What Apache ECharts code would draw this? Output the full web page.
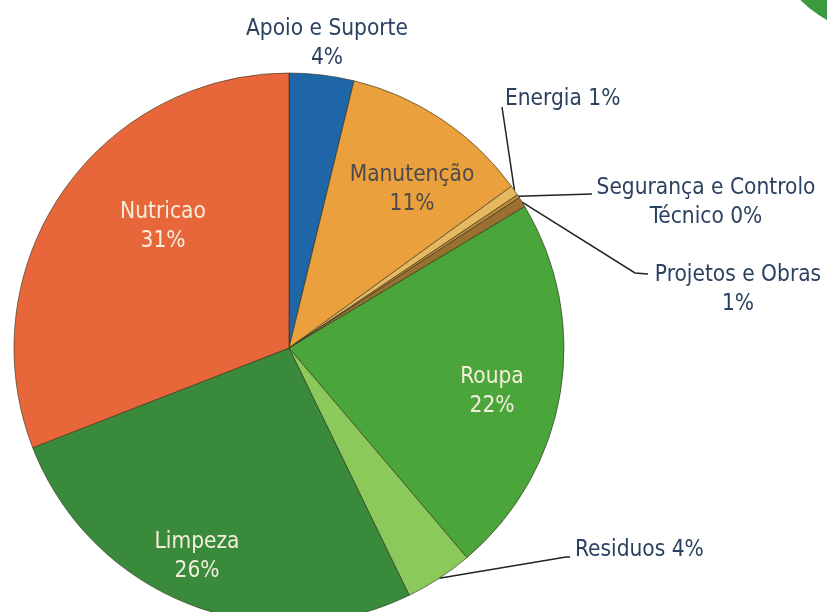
<!DOCTYPE html>
<html>
<head>
<meta charset="utf-8">
<title>Distribuição de custos</title>
<script src="https://cdn.jsdelivr.net/npm/echarts@6/dist/echarts.min.js"></script>
<style>
  html, body { margin: 0; padding: 0; background: #fff; }
  #chart { width: 827px; height: 612px; }
</style>
</head>
<body>
<div id="chart"></div>
<script>
// categorias, no sentido dos ponteiros do relógio a partir do topo
const categorias = ['Apoio e Suporte', 'Manutenção', 'Energia', 'Segurança e Controlo Técnico', 'Projetos e Obras', 'Roupa', 'Residuos', 'Limpeza', 'Nutricao'];
// percentagens estimadas a partir dos ângulos das fatias
const valores = [3.8, 11.2, 0.6, 0.2, 0.6, 22.4, 4.0, 26.3, 30.9];

const cores = ['#1f66a8', '#eaa03c', '#e6b860', '#c08a3a', '#9a7030', '#4aa53a', '#8bc95a', '#3a8a3c', '#e8673a'];

// texto de cada etiqueta ({p} = percentagem arredondada)
const formatos = {
  'Apoio e Suporte': 'Apoio e Suporte\n{p}%',
  'Manutenção': 'Manutenção\n{p}%',
  'Energia': 'Energia {p}%',
  'Segurança e Controlo Técnico': 'Segurança e Controlo\nTécnico {p}%',
  'Projetos e Obras': 'Projetos e Obras\n{p}%',
  'Roupa': 'Roupa\n{p}%',
  'Residuos': 'Residuos {p}%',
  'Limpeza': 'Limpeza\n{p}%',
  'Nutricao': 'Nutricao\n{p}%'
};

// posição de cada etiqueta: [x, y, alinhamento, cor]
const etiquetas = {
  'Apoio e Suporte': [327, 44, 'center', '#2b4160'],
  'Manutenção': [412, 190, 'center', '#4c4a4e'],
  'Energia': [505, 99, 'left', '#2b4160'],
  'Segurança e Controlo Técnico': [706, 203, 'center', '#2b4160'],
  'Projetos e Obras': [738, 290, 'center', '#2b4160'],
  'Roupa': [492, 392, 'center', '#f4eedc'],
  'Residuos': [575, 550, 'left', '#2b4160'],
  'Limpeza': [197, 557, 'center', '#f4eedc'],
  'Nutricao': [163, 227, 'center', '#f4eedc']
};

// linhas de chamada: cotovelo e ponta junto ao texto
const chamadas = {
  'Energia': [[502, 107], [502, 107]],
  'Segurança e Controlo Técnico': [[592, 194], [592, 194]],
  'Projetos e Obras': [[635, 273], [648, 274]],
  'Residuos': [[566, 557], [570, 557]]
};

const centro = [289, 348];
const raio = 275;
const fonte = "'DejaVu Sans Condensed', 'Liberation Sans', sans-serif";

// ponto na borda da fatia, no ângulo médio
const total = valores.reduce((a, b) => a + b, 0);
const acum = [];
valores.reduce((s, v, i) => { acum[i] = s + v / 2; return s + v; }, 0);
function borda(i) {
  const ang = acum[i] / total * 2 * Math.PI;
  return [centro[0] + raio * Math.sin(ang), centro[1] - raio * Math.cos(ang)];
}

const chart = echarts.init(document.getElementById('chart'), null, { renderer: 'canvas' });

const dados = categorias.map((nome, i) => {
  const temLinha = !!chamadas[nome];
  return {
    name: nome,
    value: valores[i],
    itemStyle: { color: cores[i] },
    label: {
      position: temLinha || nome === 'Apoio e Suporte' ? 'outside' : 'inside',
      color: etiquetas[nome][3]
    },
    labelLine: { show: temLinha }
  };
});

const option = {
  animation: false,
  backgroundColor: '#fff',
  graphic: [{
    type: 'circle',
    shape: { cx: 885, cy: -85, r: 120 },
    style: { fill: '#3a9a40' },
    silent: true
  }],
  series: [{
    type: 'pie',
    center: centro,
    radius: raio,
    startAngle: 90,
    clockwise: true,
    avoidLabelOverlap: false,
    emphasis: { disabled: true },
    itemStyle: {
      borderColor: 'rgba(45,45,25,0.6)',
      borderWidth: 1
    },
    label: {
      show: true,
      fontFamily: fonte,
      fontSize: 22.5,
      lineHeight: 29,
      formatter: (p) => formatos[p.name].replace('{p}', Math.round(p.percent))
    },
    labelLine: {
      lineStyle: { color: '#222', width: 1.5 }
    },
    labelLayout: (p) => {
      const nome = categorias[p.dataIndex];
      const e = etiquetas[nome];
      const res = { x: e[0], y: e[1], align: e[2], verticalAlign: 'middle' };
      if (chamadas[nome]) {
        res.labelLinePoints = [borda(p.dataIndex)].concat(chamadas[nome]);
      }
      return res;
    },
    data: dados
  }]
};

chart.setOption(option);
</script>
</body>
</html>
